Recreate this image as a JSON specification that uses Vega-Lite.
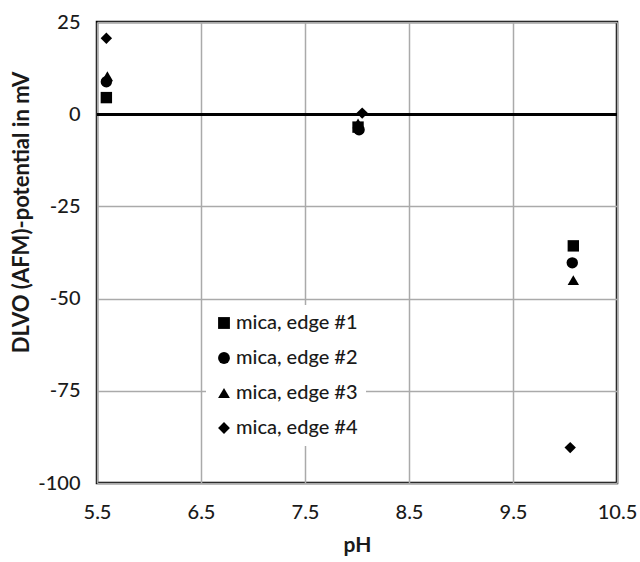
{
  "$schema": "https://vega.github.io/schema/vega-lite/v6.json",
  "autosize": "none",
  "width": 520,
  "height": 461,
  "padding": {"left": 97, "top": 22, "right": 23, "bottom": 79},
  "config": {
    "font": "Lato",
    "view": {"stroke": "#000", "strokeWidth": 2.5},
    "axis": {"labelFont": "Lato", "titleFont": "Lato", "labelFontSize": 20, "labelFontWeight": 500, "titleFontSize": 21, "titleFontWeight": "bold", "labelColor": "#1a1a1a", "titleColor": "#1a1a1a", "gridColor": "#aaa", "gridWidth": 1.5, "grid": true, "domain": false, "ticks": false, "labelFlush": false, "labelOverlap": false}
  },
  "data": {"values": [
    {"pH": 5.59, "v": 4.5, "series": "mica, edge #1"},
    {"pH": 5.59, "v": 8.8, "series": "mica, edge #2"},
    {"pH": 5.6, "v": 10.3, "series": "mica, edge #3"},
    {"pH": 5.59, "v": 20.6, "series": "mica, edge #4"},
    {"pH": 8.01, "v": -3.5, "series": "mica, edge #1"},
    {"pH": 8.02, "v": -4.2, "series": "mica, edge #2"},
    {"pH": 8.01, "v": -2.5, "series": "mica, edge #3"},
    {"pH": 8.05, "v": 0.3, "series": "mica, edge #4"},
    {"pH": 10.08, "v": -35.7, "series": "mica, edge #1"},
    {"pH": 10.07, "v": -40.3, "series": "mica, edge #2"},
    {"pH": 10.08, "v": -45.0, "series": "mica, edge #3"},
    {"pH": 10.05, "v": -90.4, "series": "mica, edge #4"}
  ]},
  "layer": [
    {
      "mark": {"type": "point", "filled": true, "opacity": 1, "color": "#000"},
      "encoding": {
        "x": {"field": "pH", "type": "quantitative", "title": "pH",
              "scale": {"domain": [5.5, 10.5], "nice": false, "zero": false},
              "axis": {"values": [5.5, 6.5, 7.5, 8.5, 9.5, 10.5], "format": ".1f", "labelPadding": 19, "titlePadding": 12, "grid": true}},
        "y": {"field": "v", "type": "quantitative", "title": "DLVO (AFM)-potential in mV",
              "scale": {"domain": [-100, 25], "nice": false},
              "axis": {"values": [-100, -75, -50, -25, 0, 25], "labelExpr": "replace(datum.label, '\u2212', '-')", "labelPadding": 17, "titleFontSize": 22, "titleX": -76, "titleY": 190, "titleAlign": "center", "titleBaseline": "middle", "titleAngle": 270, "grid": true}},
        "shape": {"field": "series", "type": "nominal",
                  "scale": {"domain": ["mica, edge #1", "mica, edge #2", "mica, edge #3", "mica, edge #4"], "range": ["square", "circle", "triangle-up", "diamond"]},
                  "legend": {"title": null, "orient": "none", "legendX": 109, "legendY": 283, "padding": 8, "fillColor": "#fff", "labelFont": "Lato", "labelFontSize": 20, "labelFontWeight": 500, "labelColor": "#1a1a1a", "rowPadding": 15, "symbolSize": 140, "symbolFillColor": "#000", "symbolStrokeColor": "#000", "labelOffset": 2}},
        "size": {"value": 130}
      }
    },
    {
      "mark": {"type": "rule", "color": "#000", "strokeWidth": 2.5},
      "encoding": {"y": {"datum": 0, "type": "quantitative"}}
    }
  ]
}
